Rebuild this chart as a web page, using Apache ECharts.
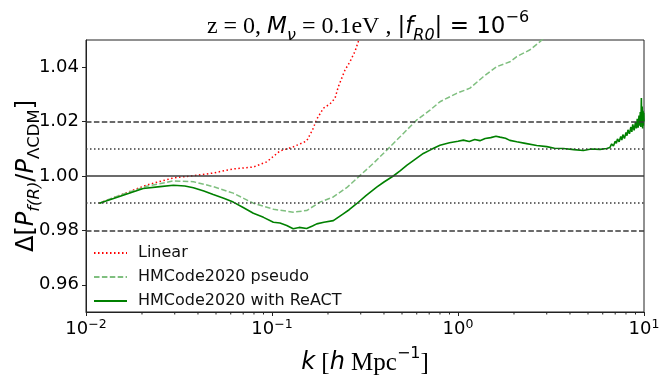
<!DOCTYPE html>
<html>
<head>
<meta charset="utf-8">
<script src="https://cdn.jsdelivr.net/npm/echarts@6/dist/echarts.min.js"></script>
<style>
  html, body { margin: 0; padding: 0; background: #fff; }
  #chart { width: 667px; height: 382px; }
</style>
</head>
<body>
<div id="chart"></div>
<script>
// k values [h/Mpc] and ratio values
var kLinear = [0.0118, 0.0212, 0.0295, 0.0378, 0.0483, 0.0619, 0.0794, 0.0937, 0.1104, 0.1300,
               0.1536, 0.1655, 0.1738, 0.1888, 0.2050, 0.2182, 0.2272, 0.2369, 0.2470, 0.2625,
               0.2794, 0.2910, 0.3100];
var linear  = [0.9900, 0.9967, 0.9993, 1.0001, 1.0011, 1.0026, 1.0033, 1.0052, 1.0092, 1.0107,
               1.0129, 1.0171, 1.0208, 1.0249, 1.0265, 1.0286, 1.0328, 1.0359, 1.0390, 1.0420,
               1.0458, 1.0494, 1.0550];

var kPseudo = [0.0118, 0.0150, 0.0212, 0.0295, 0.0378, 0.0483, 0.0619, 0.0794, 0.1018, 0.1300,
               0.1536, 0.1810, 0.2137, 0.2520, 0.2910, 0.3500, 0.4137, 0.4880, 0.6000, 0.7070,
               0.8000, 0.9840, 1.1600, 1.3680, 1.6150, 1.9040, 2.0700, 2.4400, 2.7600, 3.0500];
var pseudo  = [0.9900, 0.9928, 0.9962, 0.9982, 0.9979, 0.9961, 0.9937, 0.9900, 0.9878, 0.9867,
               0.9873, 0.9904, 0.9923, 0.9957, 0.9996, 1.0046, 1.0095, 1.0144, 1.0206, 1.0242,
               1.0273, 1.0304, 1.0323, 1.0365, 1.0402, 1.0420, 1.0439, 1.0464, 1.0494, 1.0520];

var kReact = [0.0118, 0.0150, 0.0203, 0.0250, 0.0295, 0.0340, 0.0378, 0.0430, 0.0483, 0.0550,
              0.0619, 0.0700, 0.0794, 0.0900, 0.1017, 0.1104, 0.1200, 0.1300, 0.1400, 0.1536,
              0.1650, 0.1740, 0.1900, 0.2137, 0.2416, 0.2600, 0.2850, 0.3200, 0.3655, 0.4000,
              0.4490, 0.4900, 0.5300, 0.5900, 0.6510, 0.7200, 0.8000, 0.9000, 1.0000, 1.0680,
              1.1500, 1.2300, 1.3120, 1.4000, 1.5000, 1.6000, 1.6820, 1.8000, 1.9000, 2.0700,
              2.3000, 2.6500, 3.0000, 3.3000, 3.6800, 4.2000, 4.7200, 5.2000, 5.8000, 6.3000,
              6.5600, 6.7000, 6.8500, 7.0000, 7.1000, 7.2000, 7.3500, 7.5000, 7.6000, 7.7000,
              7.8500, 8.0000, 8.1000, 8.2000, 8.3500, 8.5000, 8.6000, 8.7000, 8.8500, 9.0000,
              9.1000, 9.2000, 9.3000, 9.4000, 9.4800, 9.5500, 9.6200, 9.6800, 9.7200, 9.7800,
              9.8300, 9.8800, 9.9200, 9.9600, 10.000];
var react  = [0.9900, 0.9924, 0.9954, 0.9961, 0.9966, 0.9963, 0.9957, 0.9945, 0.9932, 0.9918,
              0.9904, 0.9884, 0.9863, 0.9848, 0.9830, 0.9827, 0.9818, 0.9806, 0.9811, 0.9807,
              0.9816, 0.9824, 0.9830, 0.9836, 0.9861, 0.9876, 0.9898, 0.9928, 0.9959, 0.9978,
              1.0000, 1.0020, 1.0039, 1.0062, 1.0083, 1.0098, 1.0113, 1.0122, 1.0128, 1.0132,
              1.0127, 1.0134, 1.0130, 1.0138, 1.0141, 1.0146, 1.0143, 1.0139, 1.0131, 1.0126,
              1.0120, 1.0112, 1.0108, 1.0102, 1.0101, 1.0097, 1.0094, 1.0099, 1.0098, 1.0101,
              1.0105, 1.0118, 1.0110, 1.0128, 1.0120, 1.0136, 1.0126, 1.0145, 1.0132, 1.0152,
              1.0138, 1.0160, 1.0148, 1.0170, 1.0155, 1.0180, 1.0162, 1.0190, 1.0168, 1.0198,
              1.0175, 1.0210, 1.0178, 1.0222, 1.0185, 1.0235, 1.0180, 1.0287, 1.0190, 1.0255,
              1.0175, 1.0240, 1.0185, 1.0232, 1.0200];

var refSolid  = [1.00];
var refDotted = [1.01, 0.99];
var refDashed = [1.02, 0.98];

var yTicks = [0.96, 0.98, 1.00, 1.02, 1.04];
var minorTicks = [0.02, 0.03, 0.04, 0.05, 0.06, 0.07, 0.08, 0.09,
                  0.2, 0.3, 0.4, 0.5, 0.6, 0.7, 0.8, 0.9,
                  2, 3, 4, 5, 6, 7, 8, 9];

function zip(xs, ys) {
    return xs.map(function (x, i) { return [x, ys[i]]; });
}

var sans = 'DejaVu Sans';
var serif = 'Liberation Serif';

var myChart = echarts.init(document.getElementById('chart'));

var refLine = function (v, type, w) {
    return { yAxis: v, lineStyle: { color: '#3a3a3a', type: type, width: w } };
};

var option = {
    animation: false,
    title: {
        text: '{r|z = 0, }{i|M}{isub|ν}{r| = 0.1eV , }{s||}{i|f}{isub|R0}{s|| = 10}{sup|−6}',
        left: 363,
        top: 5,
        textAlign: 'center',
        textStyle: {
            fontWeight: 'normal',
            rich: {
                r: { fontFamily: serif, fontSize: 24, fontWeight: 'normal', color: '#000', lineHeight: 34 },
                s: { fontFamily: sans, fontSize: 23, fontWeight: 'normal', color: '#000', lineHeight: 34 },
                i: { fontFamily: sans, fontSize: 23, fontWeight: 'normal', fontStyle: 'italic', color: '#000', lineHeight: 34 },
                isub: { fontFamily: sans, fontSize: 16, fontWeight: 'normal', fontStyle: 'italic', color: '#000', lineHeight: 16, verticalAlign: 'bottom' },
                sup: { fontFamily: sans, fontSize: 16, fontWeight: 'normal', color: '#000', lineHeight: 14, verticalAlign: 'top' }
            }
        }
    },
    legend: {
        orient: 'vertical',
        left: 88,
        top: 240,
        itemWidth: 33,
        itemHeight: 14,
        itemGap: 8,
        itemStyle: { opacity: 0 },
        textStyle: { fontFamily: sans, fontSize: 16, color: '#111', padding: [0, 0, 0, 6] },
        data: ['Linear', 'HMCode2020 pseudo', 'HMCode2020 with ReACT']
    },
    grid: {
        left: 86, right: 23, top: 40, bottom: 70,
        outerBoundsMode: 'none',
        containLabel: false,
        show: true, borderColor: '#222', borderWidth: 1
    },
    xAxis: {
        type: 'log',
        logBase: 10,
        min: 0.01,
        max: 10,
        name: '{i|k}{r| [}{i|h}{r| Mpc}{sup|−1}{r|]}',
        nameLocation: 'middle',
        nameGap: 34,
        nameMoveOverlap: false,
        nameTextStyle: {
            rich: {
                r: { fontFamily: serif, fontSize: 25, color: '#000', lineHeight: 34 },
                i: { fontFamily: sans, fontSize: 24, fontStyle: 'italic', color: '#000', lineHeight: 34 },
                sup: { fontFamily: sans, fontSize: 16, color: '#000', lineHeight: 14, verticalAlign: 'top' }
            }
        },
        axisLine: { lineStyle: { color: '#222', width: 1 } },
        axisTick: { length: 4, lineStyle: { color: '#222' } },
        splitLine: { show: false },
        axisLabel: {
            margin: 6,
            formatter: function (v) {
                var e = Math.round(Math.log10(v));
                return '{b|10}{sup|' + (e < 0 ? '−' + (-e) : e) + '}';
            },
            rich: {
                b: { fontFamily: sans, fontSize: 18, color: '#000', lineHeight: 22 },
                sup: { fontFamily: sans, fontSize: 12.5, color: '#000', lineHeight: 12, verticalAlign: 'top' }
            }
        }
    },
    yAxis: {
        type: 'value',
        min: 0.95,
        max: 1.05,
        name: '{r|Δ[}{i|P}{isub|f(R)}{r|/}{i|P}{sub|ΛCDM}{r|]}',
        nameLocation: 'middle',
        nameRotate: 90,
        nameGap: 43,
        nameMoveOverlap: false,
        nameTextStyle: {
            rich: {
                r: { fontFamily: sans, fontSize: 24, color: '#000', lineHeight: 32 },
                i: { fontFamily: sans, fontSize: 24, fontStyle: 'italic', color: '#000', lineHeight: 32 },
                isub: { fontFamily: sans, fontSize: 16.5, fontStyle: 'italic', color: '#000', lineHeight: 17, verticalAlign: 'bottom' },
                sub: { fontFamily: sans, fontSize: 16.5, color: '#000', lineHeight: 17, verticalAlign: 'bottom' }
            }
        },
        axisLine: { show: true, lineStyle: { color: '#222', width: 1 } },
        axisTick: { show: true, length: 4, customValues: yTicks, lineStyle: { color: '#222' } },
        splitLine: { show: false },
        axisLabel: {
            customValues: yTicks,
            margin: 7,
            fontFamily: sans,
            fontSize: 18,
            color: '#000',
            formatter: function (v) { return v.toFixed(2); }
        }
    },
    series: [{
        name: 'Linear',
        type: 'line',
        data: zip(kLinear, linear),
        symbol: 'none',
        itemStyle: { color: '#ff0000' },
        lineStyle: { color: '#ff0000', width: 1.5, type: [1.5, 2.5] },
        z: 3
    }, {
        name: 'HMCode2020 pseudo',
        type: 'line',
        data: zip(kPseudo, pseudo),
        symbol: 'none',
        itemStyle: { color: '#7fbf7f' },
        lineStyle: { color: '#7fbf7f', width: 1.5, type: [5.5, 2.4] },
        z: 3
    }, {
        name: 'HMCode2020 with ReACT',
        type: 'line',
        data: zip(kReact, react),
        symbol: 'none',
        itemStyle: { color: '#008000' },
        lineStyle: { color: '#008000', width: 1.6 },
        z: 4,
        markLine: {
            silent: true,
            symbol: 'none',
            label: { show: false },
            data: refSolid.map(function (v) { return refLine(v, 'solid', 1.5); })
                .concat(refDotted.map(function (v) { return refLine(v, [1.5, 2.5], 1.5); }))
                .concat(refDashed.map(function (v) { return refLine(v, [5.5, 2.4], 1.5); }))
        }
    }, {
        // minor log ticks under the x axis
        name: 'minor',
        type: 'custom',
        clip: false,
        silent: true,
        data: minorTicks.map(function (k) { return [k, 0.95]; }),
        renderItem: function (params, api) {
            var p = api.coord([api.value(0), api.value(1)]);
            return {
                type: 'line',
                shape: { x1: p[0], y1: p[1], x2: p[0], y2: p[1] + 2.5 },
                style: { stroke: '#222', lineWidth: 1 }
            };
        },
        z: 5
    }]
};

myChart.setOption(option, true);
</script>
</body>
</html>
